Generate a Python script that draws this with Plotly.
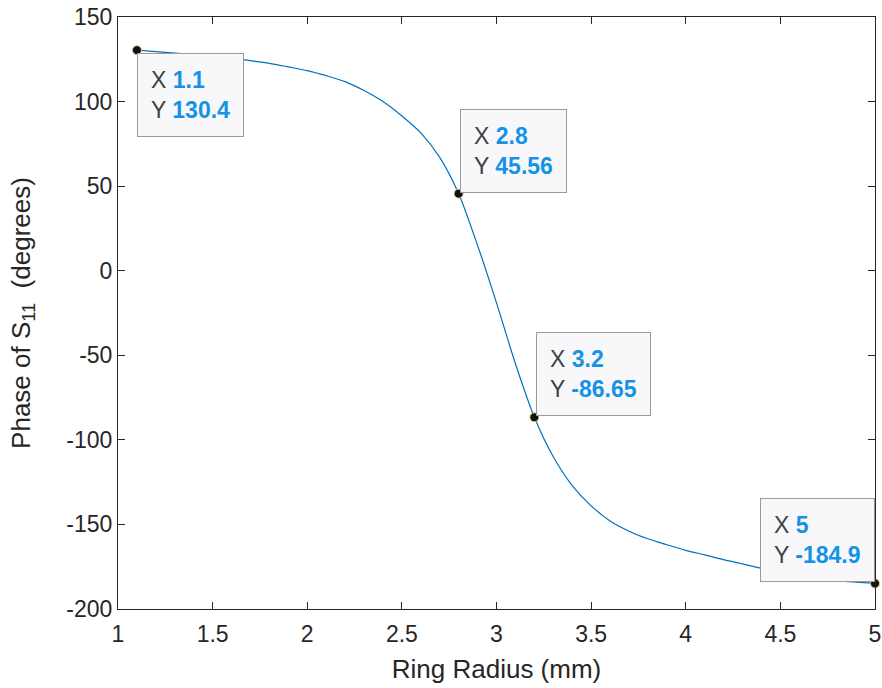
import plotly.graph_objects as go

# Phase of S11 versus ring radius
radius_mm = [1.1, 1.2, 1.3, 1.4, 1.5, 1.6, 1.7, 1.8, 1.9, 2.0,
             2.1, 2.2, 2.3, 2.4, 2.5, 2.6, 2.7, 2.8, 2.9, 3.0,
             3.1, 3.2, 3.3, 3.4, 3.5, 3.6, 3.7, 3.8, 3.9, 4.0,
             4.1, 4.2, 4.3, 4.4, 4.5, 4.6, 4.7, 4.8, 4.9, 5.0]
phase_deg = [130.4, 129.5, 128.7, 127.8, 126.8, 125.6, 124.2, 122.6, 120.5, 118.3,
             115.3, 111.8, 106.5, 100.0, 91.5, 81.5, 67.0, 45.56, 15.0, -19.0,
             -55.0, -86.65, -110.0, -127.0, -139.0, -148.0, -154.0, -158.5, -162.0, -165.3,
             -168.0, -170.8, -173.3, -176.0, -178.0, -180.0, -181.8, -183.2, -184.1, -184.9]

# Data tips: marked points and the value strings they show
tip_x = [1.1, 2.8, 3.2, 5.0]
tip_y = [130.4, 45.56, -86.65, -184.9]
tip_x_text = ["1.1", "2.8", "3.2", "5"]
tip_y_text = ["130.4", "45.56", "-86.65", "-184.9"]
# pixel offsets of each tip box centre from its point
tip_dx = [54, 55, 59, -58]
tip_dy = [45, -43, -43, -43]

x_ticks = [1, 1.5, 2, 2.5, 3, 3.5, 4, 4.5, 5]
y_ticks = [-200, -150, -100, -50, 0, 50, 100, 150]

FONT = "Liberation Sans, Arial, Helvetica, sans-serif"
AX_COLOR = "#262626"
VAL_COLOR = "#1493e6"

fig = go.Figure()
fig.add_trace(go.Scatter(
    x=radius_mm, y=phase_deg, mode="lines",
    line=dict(color="#0072BD", width=1.2, shape="spline", smoothing=0.8),
    hoverinfo="skip", showlegend=False,
))
fig.add_trace(go.Scatter(
    x=tip_x, y=tip_y, mode="markers",
    marker=dict(color="#111111", size=9, line=dict(color="#d8c98a", width=1)),
    cliponaxis=False, hoverinfo="skip", showlegend=False,
))

for xv, yv, xs, ys, dx, dy in zip(tip_x, tip_y, tip_x_text, tip_y_text, tip_dx, tip_dy):
    fig.add_annotation(
        x=xv, y=yv, xref="x", yref="y",
        ax=dx, ay=dy, axref="pixel", ayref="pixel",
        showarrow=True, arrowcolor="rgba(0,0,0,0)", arrowwidth=0.1,
        text=(f"X <b><span style='color:{VAL_COLOR}'>{xs}</span></b><br>"
              f"Y <b><span style='color:{VAL_COLOR}'>{ys}</span></b>"),
        align="left",
        font=dict(family=FONT, size=23, color="#404040"),
        bgcolor="#f8f8fb", bordercolor="#9a9a9a", borderwidth=1, borderpad=13,
    )

axis_common = dict(
    showline=True, linecolor=AX_COLOR, linewidth=1, mirror="ticks",
    ticks="inside", ticklen=7, tickcolor=AX_COLOR, tickwidth=1,
    showgrid=False, zeroline=False, automargin=False,
    tickfont=dict(family=FONT, size=23, color=AX_COLOR),
)

fig.update_xaxes(
    range=[1, 5], tickvals=x_ticks, ticktext=[f"{t:g}" for t in x_ticks],
    ticklabelstandoff=4,
    title=dict(text="Ring Radius (mm)", font=dict(family=FONT, size=26, color=AX_COLOR), standoff=14),
    **axis_common,
)
fig.update_yaxes(
    range=[-200, 150], tickvals=y_ticks, ticktext=[str(t) for t in y_ticks],
    title=dict(text="Phase of S<sub>11</sub>  (degrees)", font=dict(family=FONT, size=26, color=AX_COLOR), standoff=28),
    **axis_common,
)

fig.update_layout(
    width=882, height=688,
    margin=dict(l=118, r=7, t=17, b=79),
    paper_bgcolor="white", plot_bgcolor="white",
    showlegend=False,
)

fig.write_html("out.html")
